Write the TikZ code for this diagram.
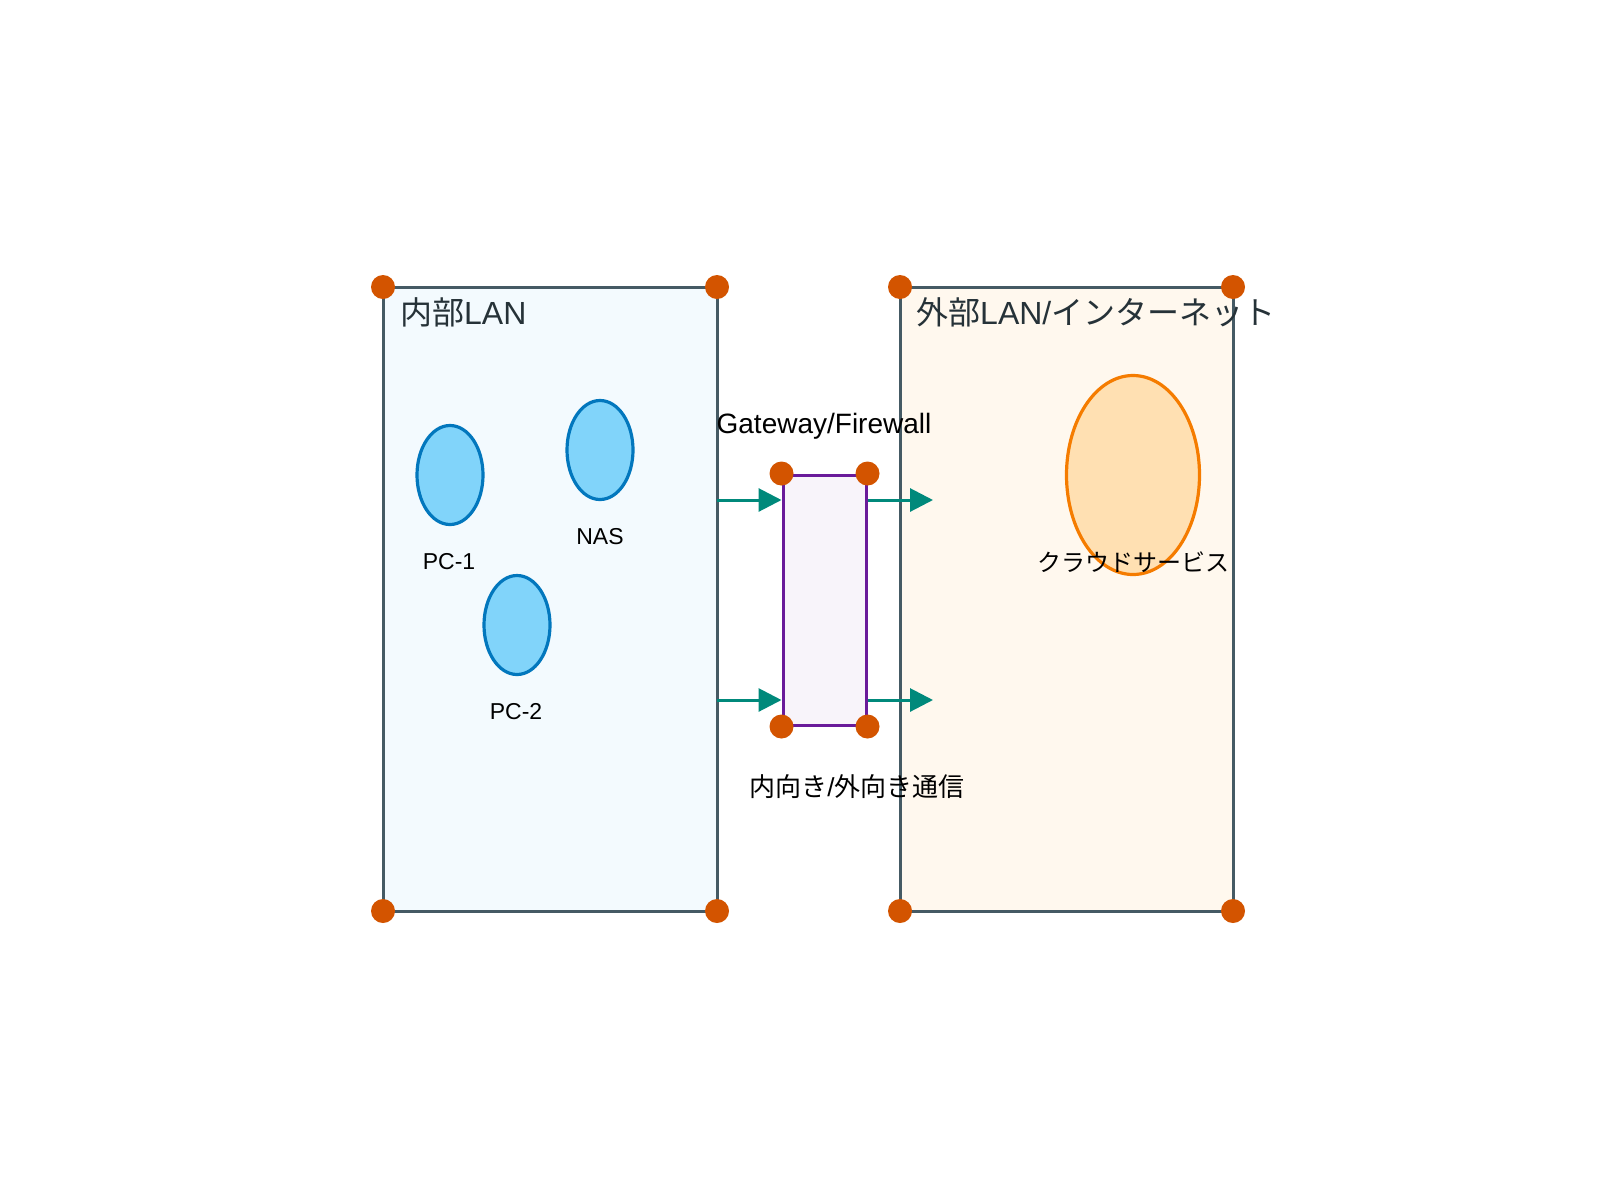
\documentclass[tikz,border=0pt]{standalone}
\usepackage{fontspec}
\setmainfont{Liberation Sans}
\newfontfamily\cjk{Noto Sans CJK JP}
\usetikzlibrary{arrows.meta,shapes.geometric}
\definecolor{boxline}{HTML}{455A64}
\definecolor{lanfill}{HTML}{F3FAFE}
\definecolor{wanfill}{HTML}{FFF8EE}
\definecolor{dotc}{HTML}{D35400}
\definecolor{devfill}{HTML}{81D4FA}
\definecolor{devline}{HTML}{0277BD}
\definecolor{cloudfill}{HTML}{FFE0B2}
\definecolor{cloudline}{HTML}{F57C00}
\definecolor{gwfill}{HTML}{F8F4FA}
\definecolor{gwline}{HTML}{6A1B9A}
\definecolor{arrowc}{HTML}{00897B}
\definecolor{titlec}{HTML}{263238}
\tikzset{
  zone/.style={draw=boxline, line width=3pt},
  corner/.style={fill=dotc, draw=none, circle, minimum size=24pt, inner sep=0pt},
  device/.style={draw=devline, fill=devfill, line width=3.2pt, ellipse, minimum width=66pt, minimum height=99pt, inner sep=0pt},
  title/.style={anchor=west, text=titlec, font=\fontsize{32}{38}\selectfont, inner sep=0pt},
  lbl/.style={text=black, font=\fontsize{23}{27}\selectfont, inner sep=0pt},
  flow/.style={draw=arrowc, line width=3pt, -{Triangle[length=23pt,width=23pt]}},
}
\begin{document}
\begin{tikzpicture}[x=1pt,y=-1pt]
\useasboundingbox (0,0) rectangle (1600,1200);
% zones
\draw[zone, fill=lanfill] (383,287) rectangle (717,911);
\draw[zone, fill=wanfill] (900,287) rectangle (1233,911);
% gateway
\node[draw=gwline, fill=gwfill, line width=3pt, minimum width=83pt, minimum height=250pt, inner sep=0pt] (gw) at (824.5,600) {};
% devices
\node[device] (pc1) at (450,475) {};
\node[device] (nas) at (600,450) {};
\node[device] (pc2) at (517,625) {};
\node[draw=cloudline, fill=cloudfill, line width=3.2pt, ellipse, minimum width=133pt, minimum height=199pt, inner sep=0pt] (cloud) at (1133,475) {};
% labels
\node[title] (t1) at (400,312) {{\cjk 内部}LAN};
\node[title] (t2) at (916,312) {{\cjk 外部}LAN/{\cjk インターネット}};
\node[lbl] (l1) at (449,562) {PC-1};
\node[lbl] (l2) at (600,537) {NAS};
\node[lbl] (l3) at (516,712) {PC-2};
\node[lbl, font=\fontsize{24}{28}\selectfont\cjk] (l4) at (1133,562) {クラウドサービス};
\node[lbl, font=\fontsize{28}{33}\selectfont] (l5) at (824,426) {Gateway/Firewall};
\node[lbl, font=\fontsize{26}{30}\selectfont] (l6) at (857,787) {{\cjk 内向き}/{\cjk 外向き通信}};
% arrows
\coordinate (a1s) at (717,500);
\coordinate (a2s) at (717,700);
\coordinate (b1e) at (933,500);
\coordinate (b2e) at (933,700);
\draw[flow] (a1s) -- (gw.west |- a1s);
\draw[flow] (a2s) -- (gw.west |- a2s);
\draw[flow] (gw.east |- b1e) -- (b1e);
\draw[flow] (gw.east |- b2e) -- (b2e);
% corner dots
\foreach \n/\p in {c1/{383,287}, c2/{717,287}, c3/{383,911}, c4/{717,911}, c5/{900,287}, c6/{1233,287}, c7/{900,911}, c8/{1233,911}}
  \node[corner] (\n) at (\p) {};
\node[corner] (g1) at (gw.north west) {};
\node[corner] (g2) at (gw.north east) {};
\node[corner] (g3) at (gw.south west) {};
\node[corner] (g4) at (gw.south east) {};
\end{tikzpicture}
\end{document}
